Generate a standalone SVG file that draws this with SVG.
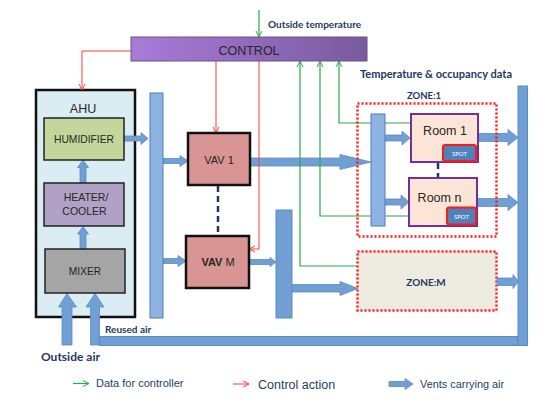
<svg xmlns="http://www.w3.org/2000/svg" width="552" height="415" viewBox="0 0 552 415">
<defs>
<linearGradient id="ctrlGrad" x1="0" y1="0" x2="1" y2="0">
<stop offset="0" stop-color="#a97bd9"/>
<stop offset="1" stop-color="#7a5a9e"/>
</linearGradient>
<marker id="mRed" viewBox="0 0 8 8" refX="7" refY="4" markerWidth="8" markerHeight="8" markerUnits="userSpaceOnUse" orient="auto">
<path d="M1,1 L7,4 L1,7" fill="none" stroke="#ff3b3b" stroke-width="1"/>
</marker>
<marker id="mGreen" viewBox="0 0 8 8" refX="7" refY="4" markerWidth="8" markerHeight="8" markerUnits="userSpaceOnUse" orient="auto">
<path d="M1,1 L7,4 L1,7" fill="none" stroke="#2ca84a" stroke-width="1"/>
</marker>
</defs>
<style>
.node{stroke:#111;stroke-width:2.5}
.sub{stroke:#222;stroke-width:1.5}
.duct1{fill:#8db3e2;stroke:#4f7fba;stroke-width:1}
.duct2{fill:#6f9fd3;stroke:#5b8bc4;stroke-width:1}
.air{fill:#6f9fd3;stroke:#5b8bc4;stroke-width:0.8}
.red{fill:none;stroke:#ff3b3b;stroke-width:1;marker-end:url(#mRed)}
.green{fill:none;stroke:#2ca84a;stroke-width:1.2;marker-end:url(#mGreen)}
.zone{stroke:#ff1a1a;stroke-width:2.5;stroke-dasharray:2 2}
.room{fill:#fce4d6;stroke:#7030a0;stroke-width:2}
.spot{fill:#4f81bd;stroke:#ff1a1a;stroke-width:2}
.t{font-family:"Liberation Sans",Arial,sans-serif;fill:#262626;text-anchor:middle}
.lb{font-family:Lato,"Liberation Sans",sans-serif;font-weight:bold;fill:#1f3864}
.lg{font-family:"Liberation Sans",Arial,sans-serif;fill:#243f60}
.dash{stroke:#1f3864;stroke-width:2.5;stroke-dasharray:6 4;fill:none}
</style>

<g id="ahu">
<rect class="node" x="36" y="90" width="99" height="227" fill="#daedf3"/>
<text class="t" x="83" y="113" font-size="12.5">AHU</text>
</g>

<g id="zonem">
<rect class="zone" x="357.5" y="251.5" width="139" height="59" fill="#eeece1"/>
<text class="lb" x="426" y="286" font-size="10" text-anchor="middle">ZONE:M</text>
</g>

<g id="connectors">
<!-- air arrows -->
<path class="air" d="M80,249 L80,234 L77.5,234 L83,226.5 L88.5,234 L86,234 L86,249 Z"/>
<path class="air" d="M80,183 L80,167.5 L77.5,167.5 L83,160 L88.5,167.5 L86,167.5 L86,183 Z"/>
<path class="air" d="M124,136 L141,136 L141,132.5 L148,138.5 L141,144.5 L141,141 L124,141 Z"/>
<path class="air" d="M163,158.5 L180,158.5 L180,155.5 L188,161 L180,166.5 L180,163.5 L163,163.5 Z"/>
<path class="air" d="M163,258.5 L178,258.5 L178,255.5 L186,261 L178,266.5 L178,263.5 L163,263.5 Z"/>
<path class="air" d="M250,158 L340,158 L340,154.5 L371,162 L340,169.5 L340,166 L250,166 Z"/>
<path class="air" d="M249,259.5 L270,259.5 L270,257.5 L276,262 L270,266.5 L270,264.5 L249,264.5 Z"/>
<path class="air" d="M292,284.5 L340,284.5 L340,281.5 L358,288.5 L340,295.5 L340,292 L292,292 Z"/>
<path class="air" d="M385,135 L402,135 L402,131 L410,138 L402,145 L402,141 L385,141 Z"/>
<path class="air" d="M385,199 L401,199 L401,195 L409,202 L401,209 L401,205 L385,205 Z"/>
<path class="air" d="M478,133.5 L508,133.5 L508,129.5 L518,137.5 L508,145.5 L508,141.5 L478,141.5 Z"/>
<path class="air" d="M477,198.5 L508,198.5 L508,194.5 L518,202.5 L508,210.5 L508,206.5 L477,206.5 Z"/>
<path class="air" d="M497,278 L513,278 L513,274.5 L518.5,281.5 L513,288.5 L513,285.5 L497,285.5 Z"/>
<path class="air" d="M62,345 L62,307 L58.5,307 L67,293.5 L76.5,307 L72,307 L72,345 Z"/>
<path class="air" d="M90.5,345 L90.5,307 L86,307 L95,293.5 L104,307 L99.5,307 L99.5,345 Z"/>
<rect class="duct2" x="99.5" y="336.5" width="418.5" height="9"/>
<rect class="duct2" x="518" y="86" width="9.5" height="259.5"/>
<!-- red control action lines -->
<polyline class="red" points="131,51 82,51 82,90"/>
<polyline class="red" points="216,61 216,133"/>
<polyline class="red" points="259,61 259,249 249,249"/>
<!-- green data lines -->
<polyline class="green" points="259,10 259,37"/>
<polyline class="green" points="411,123 339,123 339,61"/>
<polyline class="green" points="409,216 320,216 320,61"/>
<polyline class="green" points="358,266 300,266 300,61"/>
<!-- dashed links -->
<line class="dash" x1="218" y1="186" x2="218" y2="236"/>
<line class="dash" x1="438" y1="163" x2="438" y2="177"/>
<!-- ducts -->
<rect class="duct1" x="150" y="93" width="13" height="225"/>
<rect class="duct2" x="276" y="210" width="16" height="108"/>
<rect class="duct1" x="371" y="114" width="14" height="112"/>
</g>

<g id="control">
<rect x="131" y="37" width="236" height="24" fill="url(#ctrlGrad)" stroke="#6a5585" stroke-width="1"/>
<text class="t" x="249" y="55" font-size="12.5">CONTROL</text>
</g>

<g id="humidifier">
<rect class="sub" x="44" y="118" width="80" height="42" fill="#c3d69b"/>
<text class="t" x="84" y="143" font-size="10.3">HUMIDIFIER</text>
</g>
<g id="heater">
<rect class="sub" x="44" y="183" width="80" height="43" fill="#b2a1c7"/>
<text class="t" x="86" y="200.5" font-size="10.5">HEATER/</text>
<text class="t" x="84.5" y="214.5" font-size="10.5">COOLER</text>
</g>
<g id="mixer">
<rect class="sub" x="45" y="249" width="80" height="44" fill="#a5a5a5"/>
<text class="t" x="85" y="275" font-size="10.2">MIXER</text>
</g>

<g id="vav1">
<rect class="node" x="188" y="133" width="62" height="52" fill="#d99594"/>
<text class="t" x="219" y="164" font-size="11">VAV 1</text>
</g>
<g id="vavm">
<rect class="node" x="186" y="236" width="63" height="52" fill="#d99594"/>
<text class="t" x="218" y="266" font-size="11"><tspan font-weight="bold">VAV</tspan> M</text>
</g>

<g id="zone1">
<rect class="zone" x="357.5" y="103.5" width="139" height="133" fill="none"/>
<text class="lb" x="424" y="99" font-size="9.5" text-anchor="middle">ZONE:1</text>
</g>
<g id="room1">
<rect class="room" x="411" y="114" width="67" height="48"/>
<text class="t" x="445" y="135" font-size="12.5">Room 1</text>
<rect class="spot" x="443" y="145" width="33" height="16" rx="2"/>
<text x="459.5" y="155.5" font-size="6" fill="#fff" font-family="Lato,'Liberation Sans',sans-serif" text-anchor="middle">SPOT</text>
</g>
<g id="roomn">
<rect class="room" x="409" y="178" width="68" height="48"/>
<text class="t" x="439.5" y="201.5" font-size="12.5">Room n</text>
<rect class="spot" x="447" y="207.5" width="29" height="17" rx="2"/>
<text x="461.5" y="218.5" font-size="6" fill="#fff" font-family="Lato,'Liberation Sans',sans-serif" text-anchor="middle">SPOT</text>
</g>

<g id="labels">
<text class="lb" x="268" y="28" font-size="10">Outside temperature</text>
<text class="lb" x="360" y="78" font-size="12" textLength="152" lengthAdjust="spacingAndGlyphs">Temperature &amp; occupancy data</text>
<text class="lb" x="105" y="333" font-size="10">Reused air</text>
<text class="lb" x="41" y="361" font-size="12">Outside air</text>
</g>

<g id="legend">
<line x1="73" y1="383.5" x2="89" y2="383.5" class="green"/>
<text class="lg" x="96" y="387" font-size="11">Data for controller</text>
<line x1="233" y1="384" x2="249" y2="384" class="red"/>
<text class="lg" x="258" y="388.5" font-size="12.5">Control action</text>
<path class="air" d="M389,381.5 L405,381.5 L405,378.5 L413,384 L405,389.5 L405,386.5 L389,386.5 Z"/>
<text class="lg" x="420" y="387.5" font-size="10.9">Vents carrying air</text>
</g>
</svg>
